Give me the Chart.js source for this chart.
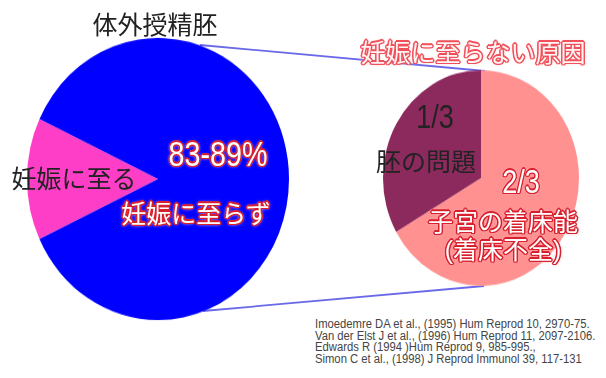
<!DOCTYPE html>
<html>
<head>
<meta charset="utf-8">
<script src="https://cdn.jsdelivr.net/npm/chart.js@4/dist/chart.umd.min.js"></script>
<style>
  body { margin: 0; background: #fff; }
  #stage {
    position: relative; width: 606px; height: 378px; overflow: hidden;
    font-family: "Liberation Sans", "Noto Sans CJK JP", sans-serif;
  }
  #stage canvas { position: absolute; transform-origin: 50% 50%; }
  #ivfChart { left: 27px; top: 48px; transform: scaleY(1.077); }
  #causeChart { left: 383px; top: 80px; transform: scaleY(1.1); }
  #links { position: absolute; left: 0; top: 0; }
  .lbl {
    position: absolute; white-space: nowrap; font-size: 25px; line-height: 1;
    transform: translate(-50%, -50%);
  }
  .lbl.num { transform: translate(-50%, -50%) scaleX(0.82); }
  .dark { color: #222; }
  .hot {
    color: #fff;
    text-shadow:
      -1.5px 0 #d8202e, 1.5px 0 #d8202e, 0 -1.5px #d8202e, 0 1.5px #d8202e,
      -1px -1px #d8202e, 1px 1px #d8202e, -1px 1px #d8202e, 1px -1px #d8202e,
      0 0 4px #ffb0b6, 0 0 3px #ffb0b6;
  }
  .soft {
    color: #fff4f4;
    text-shadow:
      -1.5px 0 #f0505a, 1.5px 0 #f0505a, 0 -1.5px #f0505a, 0 1.5px #f0505a,
      -1px -1px #f0505a, 1px 1px #f0505a, -1px 1px #f0505a, 1px -1px #f0505a,
      0 0 4px #ffc0c4;
  }
  #refs {
    position: absolute; left: 315px; top: 319px; color: #444;
    font-size: 12.5px; line-height: 11.5px; white-space: nowrap;
    transform: scaleX(0.9); transform-origin: 0 0;
  }
</style>
</head>
<body>
<div id="stage">
  <svg id="links" width="606" height="378">
    <line x1="200" y1="45" x2="485" y2="71" stroke="#6a6ae8" stroke-width="1.8"/>
    <line x1="203" y1="311" x2="484" y2="286" stroke="#6a6ae8" stroke-width="1.8"/>
  </svg>
  <canvas id="ivfChart" width="262" height="262"></canvas>
  <canvas id="causeChart" width="196" height="196"></canvas>

  <div class="lbl dark" style="left:155px; top:25px;">体外授精胚</div>
  <div class="lbl dark" style="left:74px; top:179px;">妊娠に至る</div>
  <div class="lbl hot num" style="left:218px; top:153px; font-size:35px;">83-89%</div>
  <div class="lbl hot" style="left:196px; top:214px;">妊娠に至らず</div>

  <div class="lbl soft" style="left:473px; top:53px;">妊娠に至らない原因</div>
  <div class="lbl dark num" style="left:435px; top:116px; font-size:33px;">1/3</div>
  <div class="lbl dark" style="left:426px; top:162px;">胚の問題</div>
  <div class="lbl hot num" style="left:521px; top:181px; font-size:33px;">2/3</div>
  <div class="lbl hot" style="left:503px; top:222px;">子宮の着床能</div>
  <div class="lbl hot" style="left:503px; top:250px;">(着床不全)</div>

  <div id="refs">
    Imoedemre DA et al., (1995) Hum Reprod 10, 2970-75.<br>
    Van der Elst J et al., (1996) Hum Reprod 11, 2097-2106.<br>
    Edwards R (1994 )Hum Reprod 9, 985-995.,<br>
    Simon C et al., (1998) J Reprod Immunol 39, 117-131
  </div>
</div>

<script>
  // IVF embryo outcome (%)
  const ivfLabels = ['妊娠に至る', '妊娠に至らず'];
  const ivfValues = [14, 86];
  const ivfColors = ['#ff3ec8', '#0000fe'];

  // causes of failed pregnancy (fraction)
  const causeLabels = ['子宮の着床能', '胚の問題'];
  const causeValues = [2 / 3, 1 / 3];
  const causeColors = ['#ff9191', '#8c2a5e'];

  const pieOptions = (rotation) => ({
    responsive: false,
    animation: false,
    events: [],
    rotation: rotation,
    layout: { padding: 0 },
    elements: { arc: { borderWidth: 0, offset: 0, hoverOffset: 0 } },
    plugins: { legend: { display: false }, tooltip: { enabled: false } }
  });

  // keep the small slice centred on the left side
  const ivfTotal = ivfValues.reduce((a, b) => a + b, 0);
  const ivfRotation = 270 - (ivfValues[0] / ivfTotal) * 360 / 2;

  new Chart(document.getElementById('ivfChart'), {
    type: 'pie',
    data: {
      labels: ivfLabels,
      datasets: [{ data: ivfValues, backgroundColor: ivfColors }]
    },
    options: pieOptions(ivfRotation)
  });

  new Chart(document.getElementById('causeChart'), {
    type: 'pie',
    data: {
      labels: causeLabels,
      datasets: [{ data: causeValues, backgroundColor: causeColors }]
    },
    options: pieOptions(0)
  });
</script>
</body>
</html>
